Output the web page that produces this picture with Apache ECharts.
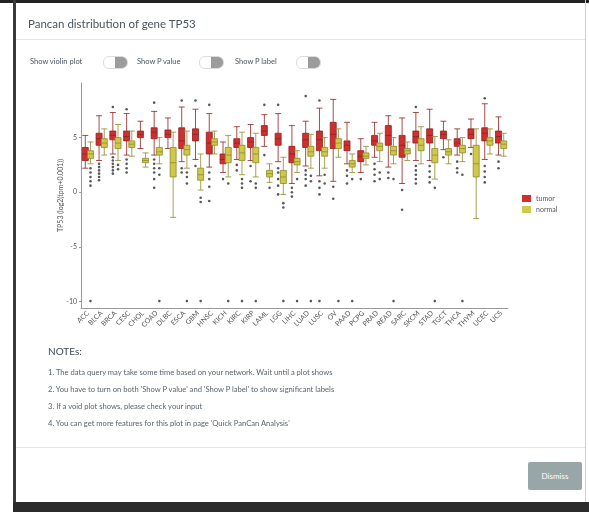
<!DOCTYPE html>
<html>
<head>
<meta charset="utf-8">
<script src="https://cdn.jsdelivr.net/npm/echarts@6/dist/echarts.min.js"></script>
<style>
body{margin:0;width:589px;height:512px;overflow:hidden;background:#fff;position:relative;font-family:Lato,"Open Sans",sans-serif;color:#3d4a57;}
#chart{position:absolute;left:0;top:0;width:589px;height:512px;}
.abs{position:absolute;white-space:nowrap;}
#topbar{left:0;top:0;width:589px;height:3px;background:#222;}
#leftbar{left:13px;top:0;width:3px;height:512px;background:#3a3a3a;}
#rightbar{left:585px;top:0;width:1px;height:502px;background:#d0d0d0;}
#bottombar{left:13px;top:502px;width:576px;height:10px;background:#2b2b2b;}
#title{left:28px;top:17px;font-size:11.5px;color:#4a5560;}
.hr{left:16px;width:569px;height:1px;background:#e6e6e6;}
.opt{top:57px;font-size:7.5px;color:#4a5560;}
.tog{top:56px;width:23px;height:11px;border:1px solid #dcdcdc;border-radius:6px;background:#fff;overflow:hidden;}
.tog span{position:absolute;right:0;top:0;width:12px;height:11px;background:#9c9c9c;}
#notes{left:48px;top:345px;font-size:10px;color:#3d4a57;}
.note{left:48px;font-size:7.6px;color:#5a6570;}
#btn{left:528px;top:462px;width:54px;height:28px;background:#98a6a7;color:#fff;font-size:8px;line-height:28px;text-align:center;border-radius:2px;}
</style>
</head>
<body>
<div id="chart"></div>
<div class="abs" id="topbar"></div>
<div class="abs" id="leftbar"></div>
<div class="abs" id="rightbar"></div>
<div class="abs" id="bottombar"></div>
<div class="abs" id="title">Pancan distribution of gene TP53</div>
<div class="abs hr" style="top:39px"></div>
<div class="abs opt" style="left:30px">Show violin plot</div>
<div class="abs tog" style="left:103px"><span></span></div>
<div class="abs opt" style="left:137px">Show P value</div>
<div class="abs tog" style="left:199px"><span></span></div>
<div class="abs opt" style="left:235px">Show P label</div>
<div class="abs tog" style="left:296px"><span></span></div>
<div class="abs" id="notes">NOTEs:</div>
<div class="abs note" style="top:367px">1. The data query may take some time based on your network. Wait until a plot shows</div>
<div class="abs note" style="top:384px">2. You have to turn on both 'Show P value' and 'Show P label' to show significant labels</div>
<div class="abs note" style="top:401px">3. If a void plot shows, please check your input</div>
<div class="abs note" style="top:418px">4. You can get more features for this plot in page 'Quick PanCan Analysis'</div>
<div class="abs hr" style="top:447px"></div>
<div class="abs" id="btn">Dismiss</div>
<script>
const categories = ['ACC','BLCA','BRCA','CESC','CHOL','COAD','DLBC','ESCA','GBM','HNSC','KICH','KIRC','KIRP','LAML','LGG','LIHC','LUAD','LUSC','OV','PAAD','PCPG','PRAD','READ','SARC','SKCM','STAD','TGCT','THCA','THYM','UCEC','UCS'];

// [min, Q1, median, Q3, max]
const tumorBox = [
  [2.2,2.9,3.5,4.1,5.2],[2.9,4.3,4.9,5.4,7.0],[3.5,4.8,5.2,5.6,7.3],[3.4,4.7,5.1,5.6,7.2],
  [4.0,5.0,5.3,5.6,6.5],[3.4,4.9,5.5,5.9,7.4],[4.0,5.0,5.3,5.7,6.8],[2.8,4.0,4.7,5.9,7.8],
  [3.0,4.7,5.3,5.8,7.6],[2.3,3.5,4.5,5.5,7.2],[1.8,2.6,3.0,3.5,4.6],[3.0,4.1,4.5,4.9,6.0],
  [2.9,4.1,4.6,5.0,6.2],[4.2,5.2,5.6,6.1,7.1],[2.8,4.3,4.9,5.4,7.2],[0.8,2.7,3.5,4.2,6.1],
  [2.4,4.1,4.8,5.4,6.5],[1.5,3.8,4.8,5.6,7.7],[1.0,4.0,5.3,6.4,8.5],[2.6,3.8,4.3,4.7,6.4],
  [1.8,2.8,3.3,3.8,4.9],[3.2,4.3,4.7,5.2,6.4],[2.3,4.3,5.2,6.1,7.0],[0.8,3.2,4.3,5.2,6.8],
  [2.9,4.5,5.1,5.6,7.3],[2.9,4.5,5.2,5.8,7.6],[3.9,4.9,5.3,5.6,6.5],[3.4,4.2,4.5,4.9,5.8],
  [4.1,4.9,5.3,5.8,6.7],[3.0,4.7,5.4,5.9,8.1],[3.4,4.5,5.1,5.6,6.9]
];
const normalBox = [
  [2.6,3.1,3.5,3.8,4.6],[3.4,4.1,4.5,4.9,5.8],[2.9,4.0,4.5,5.0,6.2],[3.3,4.1,4.4,4.7,5.6],
  [2.3,2.7,2.9,3.1,3.6],[2.6,3.4,3.7,4.1,5.0],[-2.3,1.4,2.7,4.1,5.5],[2.2,3.4,3.9,4.3,5.6],
  [0.2,1.1,1.6,2.2,3.5],[3.5,4.3,4.6,4.9,5.6],[1.4,2.7,3.4,4.1,5.2],[1.6,2.9,3.6,4.3,5.5],
  [1.4,2.7,3.5,4.1,5.4],[0.9,1.4,1.7,2.0,2.6],[-0.2,0.8,1.4,2.0,3.2],[1.8,2.5,2.8,3.1,3.8],
  [2.2,3.3,3.7,4.2,5.3],[2.2,3.3,3.7,4.1,5.0],[3.2,4.0,4.5,4.9,5.8],[1.8,2.3,2.6,2.9,3.5],
  [2.5,3.1,3.3,3.6,4.2],[2.8,3.8,4.2,4.5,5.4],[2.6,3.4,3.8,4.2,5.0],[2.9,3.5,3.8,4.0,4.6],
  [2.6,3.8,4.3,4.9,6.0],[1.2,2.7,3.4,4.0,5.1],[2.6,3.4,3.7,4.0,4.8],[2.8,3.6,4.0,4.3,5.0],
  [-2.4,1.4,2.6,4.3,5.8],[3.5,4.3,4.7,5.0,5.8],[3.3,4.0,4.4,4.7,5.4]
];

// [category index, value]
const tumorOutliers = [
  [1,2.6],[1,2.3],[1,2.0],[1,1.7],[1,1.4],[1,1.1],
  [2,3.2],[2,2.9],[2,2.6],[2,2.3],[2,2.0],[2,1.7],[2,7.8],
  [3,3.0],[3,2.6],[3,2.2],[3,1.8],[3,7.6],
  [5,3.0],[5,2.6],[5,2.2],[5,1.8],[5,1.2],[5,0.4],[5,8.2],
  [7,2.2],[7,1.8],[7,8.4],[8,2.4],[8,8.4],
  [9,1.8],[9,1.2],[9,0.5],[9,-0.8],[9,8.0],
  [10,1.2],[11,2.5],[11,2.0],[12,2.4],[12,1.0],[13,3.4],[13,8.0],
  [14,2.2],[14,1.8],[14,1.2],[14,0.6],[14,-0.2],[14,8.0],
  [15,0.4],[15,0.0],[15,-0.4],
  [16,2.0],[16,1.6],[16,1.2],[16,0.6],[16,8.8],
  [17,1.0],[17,0.4],[17,-0.2],[17,8.4],[17,-9.97],
  [18,0.5],[18,-0.6],[19,2.0],[19,1.5],[19,0.8],[20,1.2],
  [21,2.6],[21,2.1],[21,1.6],[21,1.0],[22,1.8],[22,1.3],[23,0.2],[23,-1.6],
  [24,2.4],[24,2.0],[24,1.6],[24,1.2],[24,0.8],[24,7.8],
  [25,2.4],[25,1.9],[25,1.4],[25,0.9],[26,3.2],[27,2.8],[27,2.2],[27,1.8],[28,3.5],
  [29,2.4],[29,1.9],[29,1.4],[29,0.9],[29,8.6],[30,2.8],[30,2.2]
];
const normalOutliers = [
  [0,2.2],[0,1.8],[0,1.4],[0,1.0],[0,0.6],[0,-9.97],
  [2,2.5],[2,2.1],[5,2.2],[5,1.6],[5,-9.97],
  [7,1.8],[7,1.4],[7,0.8],[7,-9.97],
  [8,-0.5],[8,-0.9],[8,-9.97],
  [10,0.8],[10,-9.97],[11,1.2],[11,0.8],[11,0.4],[11,-9.97],
  [12,0.8],[12,0.4],[12,-9.97],[13,0.4],
  [14,-1.0],[14,-1.4],[14,-9.97],[15,1.2],[15,-9.97],
  [16,1.5],[16,1.0],[16,-9.97],[17,1.6],[17,0.8],[18,-9.97],
  [19,1.2],[19,-9.97],[21,1.8],[21,1.2],[22,1.2],[22,-9.97],
  [25,0.4],[25,-9.97],[27,1.6],[27,-9.97]
];

const yTicks = [-10, -5, 0, 5];

const chart = echarts.init(document.getElementById('chart'));
chart.setOption({
  animation: false,
  textStyle: {fontFamily: 'Lato, "Open Sans", sans-serif'},
  grid: {left: 81, right: 81, top: 83, bottom: 204},
  legend: {
    data: [
      {name: 'tumor', itemStyle: {color: '#cf2f2f', borderWidth: 0}},
      {name: 'normal', itemStyle: {color: '#cfc84a', borderWidth: 0}}
    ],
    orient: 'vertical', left: 517, top: 190,
    itemWidth: 9, itemHeight: 7, itemGap: 4, icon: 'rect',
    textStyle: {fontSize: 7, color: '#555'}
  },
  xAxis: {
    type: 'category', data: categories,
    axisLine: {onZero: false, lineStyle: {color: '#9a9a9a'}},
    axisTick: {length: 2, lineStyle: {color: '#9a9a9a'}},
    axisLabel: {interval: 0, rotate: 45, fontSize: 7, color: '#555', margin: 4},
    splitLine: {show: false}
  },
  yAxis: {
    type: 'value', min: -10.6, max: 10,
    name: 'TP53 (log2(tpm+0.001))', nameLocation: 'middle', nameGap: 17,
    nameMoveOverlap: false,
    nameTextStyle: {fontSize: 7, color: '#555'},
    axisLine: {show: true, lineStyle: {color: '#9a9a9a'}},
    axisTick: {show: true, length: 2, customValues: yTicks, lineStyle: {color: '#9a9a9a'}},
    axisLabel: {fontSize: 7, color: '#555', margin: 4, customValues: yTicks},
    splitLine: {show: false}
  },
  series: [
    {name: 'tumor', type: 'boxplot', data: tumorBox, boxWidth: [6, 6],
     itemStyle: {color: '#cf2f2f', borderColor: '#8e2020', borderWidth: 0.8}},
    {name: 'normal', type: 'boxplot', data: normalBox, boxWidth: [6, 6],
     itemStyle: {color: '#cfc84a', borderColor: '#8d8a2c', borderWidth: 0.8}},
    {name: 'tumor outlier', type: 'scatter', data: tumorOutliers, symbolSize: 2.6,
     symbolOffset: [-2.6, 0], itemStyle: {color: '#2f2f2f'}},
    {name: 'normal outlier', type: 'scatter', data: normalOutliers, symbolSize: 2.6,
     symbolOffset: [2.6, 0], itemStyle: {color: '#2f2f2f'}}
  ]
});
</script>
</body>
</html>
